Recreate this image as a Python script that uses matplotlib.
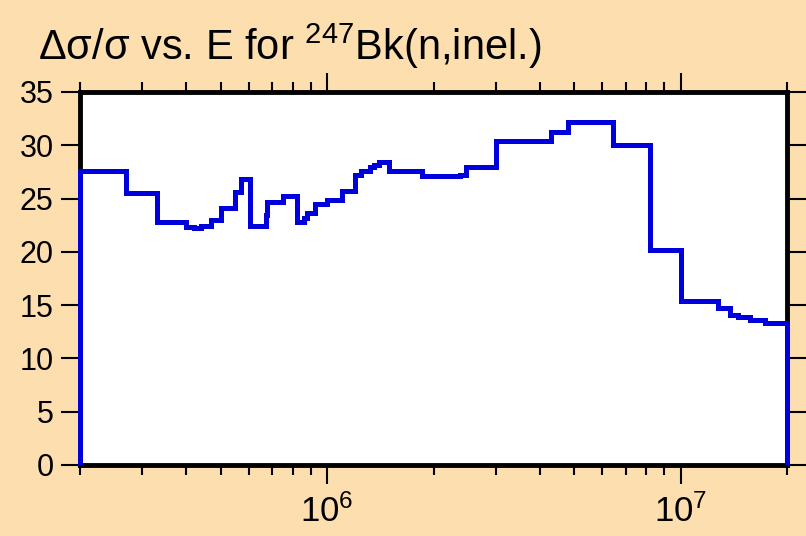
import matplotlib.pyplot as plt
import matplotlib.ticker as ticker

# group boundaries (eV) and relative uncertainty (%) in each group
edges = [2.0e5, 2.70e5, 3.31e5, 4.0e5, 4.19e5, 4.40e5, 4.70e5, 5.0e5, 5.50e5,
         5.72e5, 6.04e5, 6.70e5, 6.77e5, 7.50e5, 8.23e5, 8.60e5, 8.77e5,
         9.22e5, 1.0e6, 1.10e6, 1.20e6, 1.25e6, 1.32e6, 1.36e6, 1.40e6,
         1.50e6, 1.85e6, 2.37e6, 2.47e6, 3.0e6, 4.31e6, 4.80e6, 6.43e6,
         8.17e6, 1.0e7, 1.28e7, 1.38e7, 1.45e7, 1.57e7, 1.73e7, 2.0e7]
unc = [27.6, 25.5, 22.8, 22.35, 22.2, 22.45, 23.0, 24.15, 25.65, 26.8,
       22.4, 23.5, 24.7, 25.2, 22.8, 23.2, 23.6, 24.5, 24.85, 25.7, 27.2,
       27.6, 28.0, 28.15, 28.45, 27.6, 27.1, 27.2, 28.0, 30.4, 31.25, 32.2,
       30.0, 20.2, 15.4, 14.75, 14.1, 13.85, 13.6, 13.35]

yticks = [0, 5, 10, 15, 20, 25, 30, 35]
xmajor = [1e6, 1e7]
xlabels = [r'$\mathregular{10^6}$', r'$\mathregular{10^7}$']

plt.rcParams['font.family'] = ['Liberation Sans', 'DejaVu Sans']
plt.rcParams['mathtext.fontset'] = 'custom'
plt.rcParams['mathtext.rm'] = 'Liberation Sans'

bg = '#fddeae'
fig = plt.figure(figsize=(8.06, 5.36), dpi=100, facecolor=bg)
ax = fig.add_axes([80 / 806, 1 - 465 / 536, 707 / 806, 373 / 536])
ax.set_facecolor('white')

ax.stairs(unc, edges, baseline=0, color='#0000dd', linewidth=3.6,
          zorder=5, clip_on=False)

ax.set_xscale('log')
ax.set_xlim(2e5, 2e7)
ax.set_ylim(0, 35)

ax.set_yticks(yticks)
ax.set_xticks(xmajor)
ax.set_xticklabels(xlabels, fontsize=25)
ax.xaxis.set_minor_locator(ticker.LogLocator(base=10, subs=range(2, 10)))
ax.xaxis.set_minor_formatter(ticker.NullFormatter())

ax.tick_params(axis='y', which='major', direction='out', length=14, width=1.5,
               labelsize=22, pad=5, left=True, right=True)
ax.tick_params(axis='x', which='major', direction='out', length=14, width=1.5,
               pad=7, top=True, bottom=True)
ax.tick_params(axis='x', which='minor', direction='out', length=7, width=1.5,
               top=True, bottom=True)

for s in ax.spines.values():
    s.set_linewidth(3.5)
    s.set_color('black')

fig.text(38 / 806, 1 - 60 / 536,
         'Δσ/σ vs. E for $\\mathregular{^{247}}$Bk(n,inel.)',
         fontsize=30, va='baseline', ha='left')

fig.savefig('out.png', dpi=100, facecolor=bg)
